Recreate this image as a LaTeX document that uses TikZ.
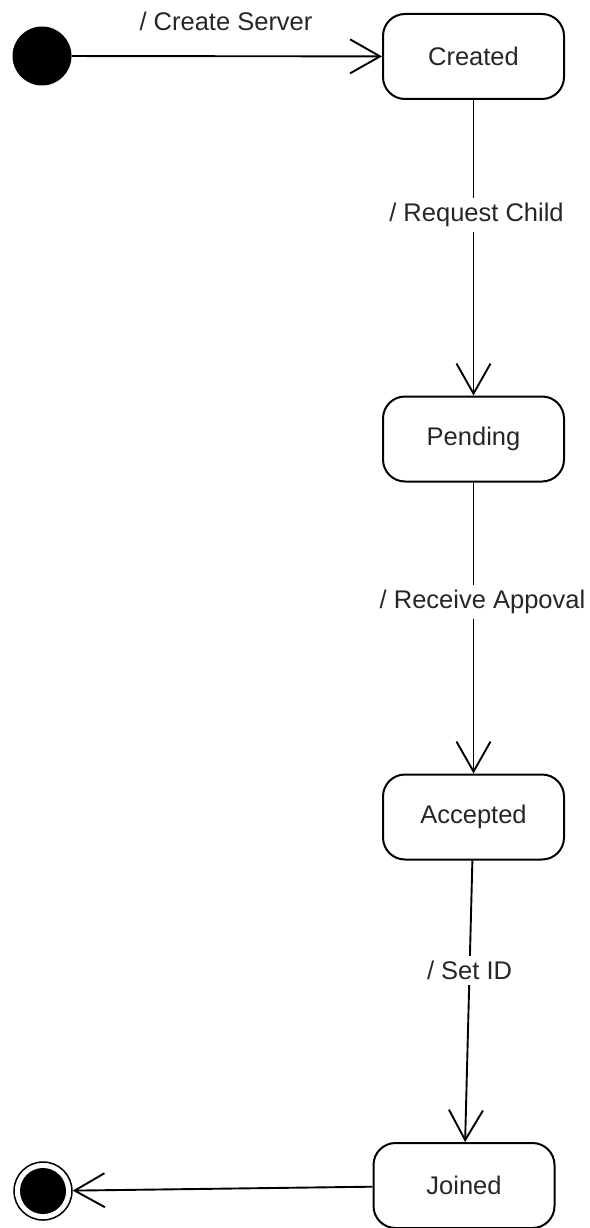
\documentclass[tikz,border=0pt]{standalone}
\usepackage{fontspec}
\setmainfont{Liberation Sans}
\usetikzlibrary{arrows.meta}
\begin{document}
\begin{tikzpicture}[x=1pt,y=-1pt,
  txt/.style={font=\fontsize{25.5}{30}\selectfont, text=black!85},
  state/.style={txt, draw, line width=2pt, rounded corners=22pt,
    minimum width=181pt, minimum height=85pt, inner sep=0pt},
  trans/.style={line width=1.9pt,
    -{Straight Barb[length=30pt, width=34pt, line width=1.9pt]}},
  lab/.style={txt, fill=white, inner sep=5pt}]
  \useasboundingbox (0,0) rectangle (589,1228);

  % pseudo states
  \node[circle, fill=black, minimum size=59pt, inner sep=0pt] (init) at (42,56) {};
  \node[circle, draw, line width=1.5pt, minimum size=58pt, inner sep=0pt] (final) at (43,1191) {};
  \node[circle, fill=black, minimum size=46pt, inner sep=0pt] (finalcore) at (final) {};

  % states
  \node[state] (created)  at (473.5,56.5)  {Created};
  \node[state] (pending)  at (473.5,439)   {Pending};
  \node[state] (accepted) at (473.5,817)   {Accepted};
  \node[state] (joined)   at (464,1185.5)  {Joined};

  % transitions
  \draw[trans] (init) -- (created);
  \node[txt] (lcreate) at (226,21) {/ Create Server};
  \draw[trans] (created) -- node[lab, pos=0.39, xshift=3pt] (lrequest) {/ Request Child} (pending);
  \draw[trans] (pending) -- node[lab, pos=0.41, xshift=9pt] (lreceive) {/ Receive Appoval} (accepted);
  \draw[trans] (accepted) -- node[lab, pos=0.39] (lsetid) {/ Set ID} (joined);
  \draw[trans] (joined) -- (final);
\end{tikzpicture}
\end{document}
